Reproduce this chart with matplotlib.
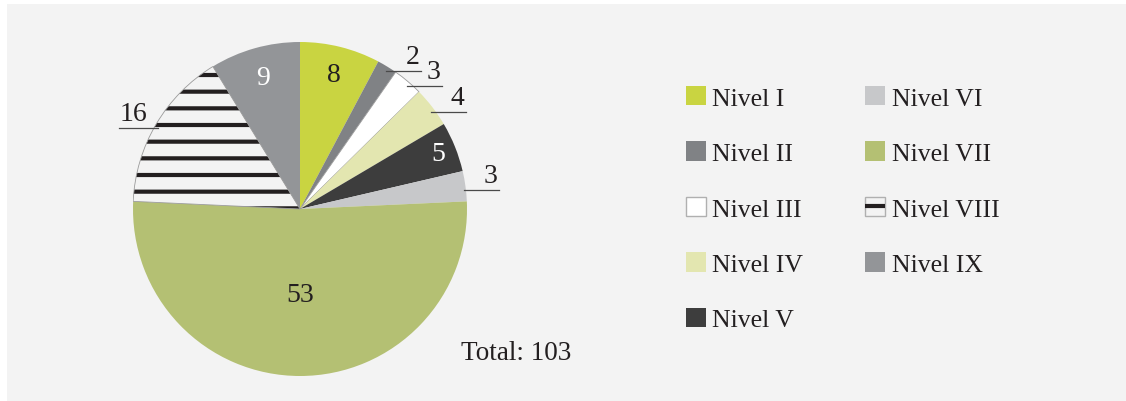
import matplotlib.pyplot as plt
import matplotlib.patches as mpatches
from matplotlib.lines import Line2D
import numpy as np

plt.rcParams['font.family'] = ['Liberation Serif', 'DejaVu Serif']
plt.rcParams['hatch.linewidth'] = 3.0
plt.rcParams['hatch.color'] = '#231f20'

# data
niveles = ['Nivel I', 'Nivel II', 'Nivel III', 'Nivel IV', 'Nivel V',
           'Nivel VI', 'Nivel VII', 'Nivel VIII', 'Nivel IX']
valores = [8, 2, 3, 4, 5, 3, 53, 16, 9]
total = sum(valores)

colores = ['#c9d441', '#808285', '#ffffff', '#e3e6b0', '#3d3d3d',
           '#c7c8ca', '#b4c073', '#f3f3f3', '#939598']
# label style: inside (radius, color) or outside (None)
etiqueta = [(0.83, '#231f20'), None, None, None, (0.89, 'white'),
            None, (0.51, '#231f20'), None, (0.82, 'white')]
txt = '#231f20'

fig = plt.figure(figsize=(11.26, 4.02), dpi=100)
fig.patch.set_facecolor('white')
fig.add_artist(mpatches.Rectangle((7/1126, 0), 1, (402-5)/402,
                                  transform=fig.transFigure,
                                  facecolor='#f3f3f3', edgecolor='none', zorder=0))

ax = fig.add_axes([133/1126, 25/402, 334/1126, 334/402])
ax.set_facecolor('none')
wedges, _ = ax.pie(valores, colors=colores, startangle=90, counterclock=False,
                   wedgeprops=dict(linewidth=0))
ax.set_xlim(-1, 1)
ax.set_ylim(-1, 1)
ax.set_aspect('equal')
ax.axis('off')

# white wedge outline
wedges[2].set_edgecolor('#9a9a9a')
wedges[2].set_linewidth(0.6)
# hatched wedge
w8 = wedges[7]
w8.set_hatch('-')
w8.set_edgecolor('#231f20')
w8.set_linewidth(0)
ax.add_patch(mpatches.Wedge(w8.center, w8.r, w8.theta1, w8.theta2,
                            fill=False, edgecolor='#9a9a9a', linewidth=0.6))

for w, v, et in zip(wedges, valores, etiqueta):
    ang = np.deg2rad((w.theta1 + w.theta2) / 2)
    if et is not None:
        r, c = et
        ax.text(r * np.cos(ang), r * np.sin(ang), str(v), ha='center', va='center',
                fontsize=20, color=c)
    else:
        x0, y0 = 0.99 * np.cos(ang), 0.99 * np.sin(ang)
        d = 0.21 if np.cos(ang) >= 0 else -0.23
        y0 -= 0.02
        ax.plot([x0, x0 + d], [y0, y0], color='#4a4a4a', lw=0.9, clip_on=False)
        if d > 0:
            ax.text(x0 + d - 0.01, y0 + 0.012, str(v), ha='right', va='bottom',
                    fontsize=20, color=txt)
        else:
            ax.text(x0 + d, y0 + 0.012, str(v), ha='left', va='bottom',
                    fontsize=20, color=txt)

fig.text(461/1126, 1 - 353/402, f'Total: {total}', fontsize=19.5, color=txt,
         ha='left', va='center')

# legend
handles = []
for w, n in zip(wedges, niveles):
    h = mpatches.Patch(facecolor=w.get_facecolor(), edgecolor='none', label=n)
    handles.append(h)
handles[2] = mpatches.Patch(facecolor='white', edgecolor='#b0b0b0', linewidth=1, label=niveles[2])
handles[7] = (mpatches.Patch(facecolor='#f3f3f3', edgecolor='#b0b0b0', linewidth=1),
              Line2D([], [], color='#231f20', lw=3, solid_capstyle='butt'))
leg = fig.legend(handles=handles, labels=niveles, ncol=2, loc='upper left',
                 bbox_to_anchor=(686/1126, 1 - 87/402), frameon=False,
                 fontsize=18.5, handlelength=0.78, handleheight=0.78,
                 handletextpad=0.25, labelspacing=1.24, columnspacing=2.4,
                 borderaxespad=0, borderpad=0)
for t in leg.get_texts():
    t.set_color(txt)

fig.savefig('out.png', dpi=100, facecolor=fig.get_facecolor())
